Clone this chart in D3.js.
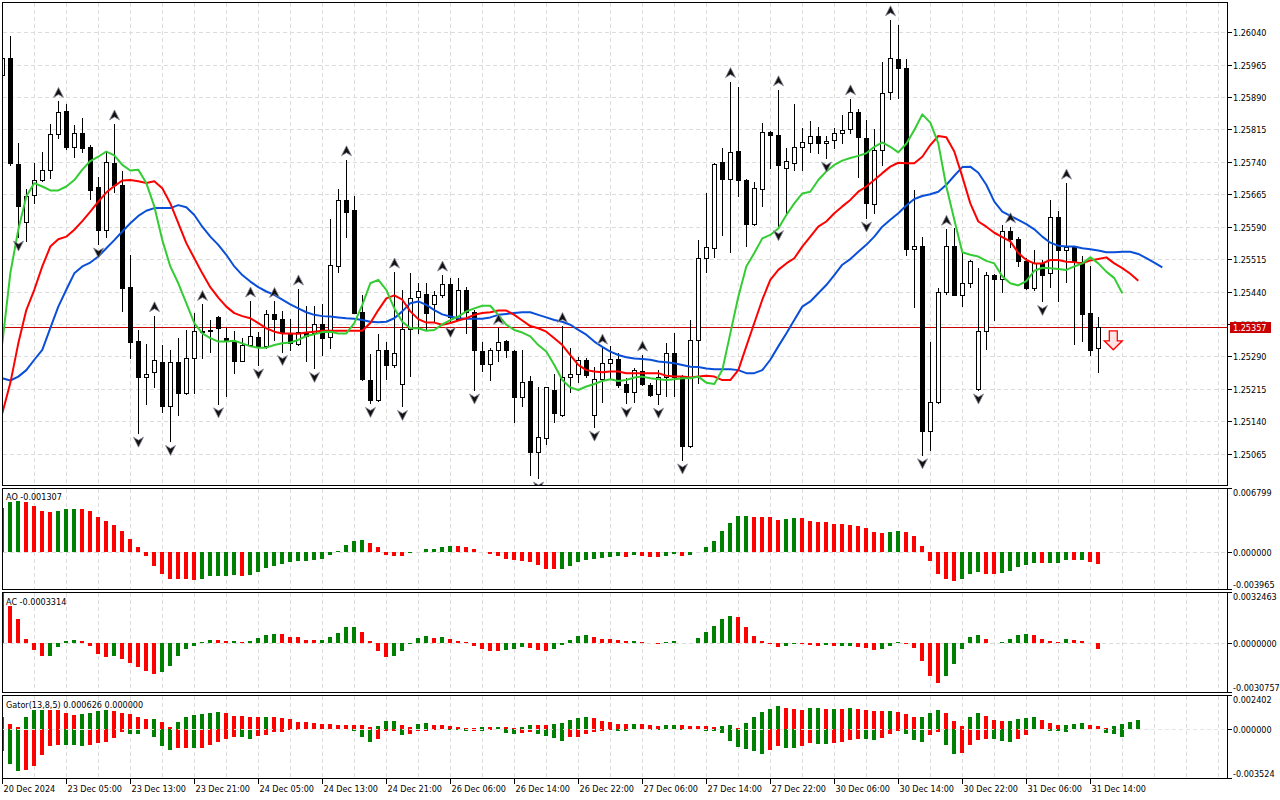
<!DOCTYPE html>
<html>
<head>
<meta charset="utf-8">
<script src="https://cdn.jsdelivr.net/npm/d3@7"></script>
<style>
html, body { margin: 0; padding: 0; background: #fff; }
svg { display: block; font-family: "DejaVu Sans Condensed", "DejaVu Sans", sans-serif; font-size: 9px; }
</style>
</head>
<body>
<svg id="chart" width="1280" height="800"></svg>
<script>
// ---- H1 candles, 20 Dec 2024 .. 31 Dec 2024 ----
const open = [1.25941,1.25980,1.25735,1.25602,1.25664,1.25698,1.25721,1.25804,1.25858,1.25775,
1.25806,1.25775,1.25681,1.25582,1.25737,1.25686,1.25450,1.25326,1.25241,1.25253,
1.25277,1.25174,1.25277,1.25206,1.25285,1.25347,1.25350,1.25381,1.25332,1.25326,
1.25280,1.25316,1.25334,1.25313,1.25387,1.25376,1.25345,1.25318,1.25347,1.25343,
1.25365,1.25334,1.25498,1.25652,1.25629,1.25392,1.25235,1.25188,1.25305,1.25269,
1.25225,1.25353,1.25427,1.25434,1.25410,1.25431,1.25457,1.25377,1.25444,1.25392,
1.25303,1.25272,1.25305,1.25326,1.25302,1.25195,1.25233,1.25069,1.25100,1.25212,
1.25154,1.25241,1.25248,1.25282,1.25154,1.25238,1.25274,1.25283,1.25225,1.25208,
1.25256,1.25224,1.25202,1.25243,1.25297,1.25243,1.25083,1.25328,1.25517,1.25540,
1.25739,1.25701,1.25765,1.25698,1.25596,1.25677,1.25809,1.25803,1.25725,1.25738,
1.25774,1.25783,1.25800,1.25783,1.25791,1.25806,1.25816,1.25855,1.25795,1.25643,
1.25768,1.25901,1.25978,1.25957,1.25538,1.25546,1.25118,1.25185,1.25440,1.25546,
1.25432,1.25459,1.25214,1.25349,1.25478,1.25468,1.25580,1.25561,1.25511,1.25448,
1.25505,1.25482,1.25612,1.25536,1.25542,1.25509,1.25390,1.25309];
const high = [1.25985,1.26032,1.25783,1.25678,1.25737,1.25762,1.25828,1.25880,1.25873,1.25826,
1.25841,1.25779,1.25706,1.25765,1.25828,1.25718,1.25525,1.25351,1.25318,1.25384,
1.25316,1.25305,1.25333,1.25351,1.25390,1.25410,1.25374,1.25383,1.25356,1.25349,
1.25332,1.25418,1.25347,1.25397,1.25417,1.25394,1.25376,1.25446,1.25407,1.25407,
1.25411,1.25608,1.25678,1.25745,1.25660,1.25432,1.25296,1.25342,1.25324,1.25485,
1.25444,1.25482,1.25459,1.25459,1.25441,1.25478,1.25472,1.25472,1.25451,1.25397,
1.25324,1.25309,1.25355,1.25328,1.25304,1.25305,1.25245,1.25218,1.25220,1.25249,
1.25359,1.25310,1.25289,1.25285,1.25266,1.25309,1.25313,1.25297,1.25239,1.25262,
1.25293,1.25228,1.25258,1.25320,1.25343,1.25247,1.25374,1.25559,1.25667,1.25738,
1.25772,1.25926,1.25913,1.25700,1.25693,1.25830,1.25812,1.25907,1.25772,1.25873,
1.25818,1.25835,1.25820,1.25799,1.25818,1.25849,1.25886,1.25863,1.25837,1.25816,
1.25972,1.26069,1.26057,1.25978,1.25675,1.25566,1.25322,1.25448,1.25584,1.25588,
1.25529,1.25513,1.25494,1.25486,1.25481,1.25593,1.25590,1.25567,1.25517,1.25536,
1.25513,1.25652,1.25627,1.25691,1.25544,1.25522,1.25500,1.25380];
const low = [1.25935,1.25732,1.25566,1.25556,1.25644,1.25695,1.25702,1.25796,1.25769,1.25752,
1.25762,1.25654,1.25550,1.25567,1.25671,1.25394,1.25287,1.25112,1.25180,1.25220,
1.25160,1.25093,1.25153,1.25203,1.25204,1.25285,1.25301,1.25180,1.25197,1.25252,
1.25278,1.25313,1.25270,1.25309,1.25328,1.25301,1.25305,1.25316,1.25278,1.25262,
1.25293,1.25310,1.25486,1.25567,1.25390,1.25235,1.25181,1.25186,1.25238,1.25266,
1.25174,1.25245,1.25343,1.25351,1.25370,1.25428,1.25366,1.25374,1.25343,1.25212,
1.25257,1.25234,1.25280,1.25289,1.25139,1.25174,1.25015,1.25008,1.25086,1.25139,
1.25152,1.25208,1.25231,1.25243,1.25126,1.25185,1.25239,1.25220,1.25181,1.25185,
1.25224,1.25199,1.25179,1.25197,1.25198,1.25050,1.25081,1.25228,1.25484,1.25519,
1.25571,1.25532,1.25660,1.25546,1.25593,1.25637,1.25725,1.25590,1.25621,1.25722,
1.25722,1.25764,1.25760,1.25749,1.25772,1.25783,1.25808,1.25705,1.25610,1.25621,
1.25733,1.25886,1.25887,1.25525,1.25404,1.25062,1.25073,1.25183,1.25434,1.25431,
1.25407,1.25450,1.25212,1.25306,1.25374,1.25440,1.25544,1.25498,1.25446,1.25444,
1.25417,1.25450,1.25419,1.25463,1.25318,1.25326,1.25292,1.25253];
const close = [1.25980,1.25737,1.25637,1.25662,1.25698,1.25721,1.25804,1.25855,1.25775,1.25806,
1.25773,1.25674,1.25583,1.25739,1.25686,1.25447,1.25324,1.25241,1.25248,1.25282,
1.25176,1.25277,1.25204,1.25285,1.25349,1.25349,1.25348,1.25356,1.25326,1.25280,
1.25316,1.25337,1.25313,1.25387,1.25376,1.25347,1.25320,1.25347,1.25337,1.25365,
1.25332,1.25502,1.25652,1.25625,1.25391,1.25237,1.25188,1.25305,1.25269,1.25297,
1.25353,1.25426,1.25441,1.25390,1.25432,1.25457,1.25382,1.25444,1.25392,1.25305,
1.25272,1.25305,1.25324,1.25305,1.25195,1.25231,1.25068,1.25103,1.25218,1.25158,
1.25241,1.25248,1.25282,1.25247,1.25237,1.25274,1.25283,1.25224,1.25208,1.25258,
1.25225,1.25201,1.25243,1.25297,1.25243,1.25083,1.25328,1.25517,1.25542,1.25735,
1.25701,1.25762,1.25697,1.25596,1.25679,1.25809,1.25803,1.25732,1.25741,1.25774,
1.25786,1.25800,1.25783,1.25789,1.25806,1.25813,1.25855,1.25797,1.25644,1.25768,
1.25899,1.25980,1.25957,1.25538,1.25546,1.25118,1.25185,1.25440,1.25546,1.25432,
1.25459,1.25511,1.25349,1.25478,1.25468,1.25580,1.25561,1.25511,1.25448,1.25505,
1.25478,1.25612,1.25535,1.25542,1.25509,1.25387,1.25305,1.25357];

// ---- Alligator lines (as drawn, already shifted) ----
const jaw = [1.25239,1.25234,1.25243,1.25258,1.25282,1.25305,1.25355,1.25405,1.25444,1.25482,
1.25498,1.25507,1.25521,1.25540,1.25559,1.25579,1.25598,1.25615,1.25627,1.25633,
1.25633,1.25633,1.25640,1.25635,1.25617,1.25590,1.25567,1.25548,1.25525,1.25498,
1.25478,1.25463,1.25450,1.25440,1.25432,1.25421,1.25410,1.25401,1.25392,1.25386,
1.25383,1.25382,1.25380,1.25378,1.25377,1.25374,1.25370,1.25369,1.25370,1.25378,
1.25394,1.25413,1.25417,1.25409,1.25397,1.25387,1.25382,1.25378,1.25377,1.25377,
1.25377,1.25380,1.25386,1.25388,1.25390,1.25392,1.25392,1.25386,1.25380,1.25374,
1.25370,1.25363,1.25351,1.25340,1.25324,1.25312,1.25301,1.25293,1.25288,1.25285,
1.25284,1.25282,1.25278,1.25276,1.25274,1.25270,1.25266,1.25265,1.25262,1.25260,
1.25260,1.25260,1.25258,1.25251,1.25251,1.25258,1.25282,1.25313,1.25343,1.25374,
1.25405,1.25417,1.25436,1.25455,1.25478,1.25502,1.25515,1.25532,1.25548,1.25567,
1.25590,1.25606,1.25621,1.25639,1.25654,1.25661,1.25665,1.25671,1.25687,1.25708,
1.25728,1.25729,1.25715,1.25687,1.25648,1.25625,1.25615,1.25606,1.25596,1.25584,
1.25567,1.25553,1.25546,1.25544,1.25544,1.25540,1.25538,1.25535,1.25531,1.25531,
1.25532,1.25532,1.25527,1.25517,1.25507,1.25496];
const teeth = [1.25158,1.25228,1.25320,1.25397,1.25444,1.25498,1.25544,1.25561,1.25567,1.25583,
1.25603,1.25625,1.25648,1.25669,1.25684,1.25697,1.25698,1.25695,1.25691,1.25695,
1.25679,1.25644,1.25598,1.25552,1.25517,1.25482,1.25450,1.25426,1.25405,1.25390,
1.25383,1.25378,1.25367,1.25355,1.25347,1.25343,1.25343,1.25342,1.25345,1.25347,
1.25349,1.25349,1.25349,1.25349,1.25349,1.25349,1.25367,1.25397,1.25424,1.25431,
1.25421,1.25394,1.25376,1.25368,1.25368,1.25363,1.25367,1.25373,1.25378,1.25386,
1.25390,1.25392,1.25396,1.25396,1.25386,1.25373,1.25360,1.25355,1.25347,1.25332,
1.25316,1.25293,1.25270,1.25258,1.25255,1.25253,1.25255,1.25255,1.25251,1.25251,
1.25251,1.25251,1.25251,1.25245,1.25243,1.25243,1.25241,1.25243,1.25245,1.25243,
1.25235,1.25235,1.25258,1.25313,1.25367,1.25421,1.25467,1.25490,1.25505,1.25517,
1.25544,1.25567,1.25590,1.25602,1.25621,1.25637,1.25652,1.25671,1.25683,1.25698,
1.25714,1.25729,1.25738,1.25737,1.25737,1.25752,1.25779,1.25800,1.25797,1.25764,
1.25706,1.25644,1.25602,1.25590,1.25576,1.25566,1.25556,1.25529,1.25513,1.25505,
1.25505,1.25513,1.25513,1.25509,1.25508,1.25505,1.25512,1.25515,1.25519,1.25505,
1.25494,1.25481,1.25465];
const lips = [1.25320,1.25482,1.25583,1.25660,1.25691,1.25683,1.25674,1.25674,1.25683,1.25698,
1.25722,1.25742,1.25752,1.25764,1.25755,1.25733,1.25720,1.25722,1.25691,1.25637,
1.25559,1.25498,1.25459,1.25413,1.25367,1.25343,1.25332,1.25324,1.25324,1.25326,
1.25320,1.25313,1.25310,1.25310,1.25316,1.25320,1.25322,1.25328,1.25337,1.25341,
1.25346,1.25347,1.25343,1.25343,1.25367,1.25409,1.25459,1.25467,1.25444,1.25401,
1.25370,1.25355,1.25355,1.25349,1.25351,1.25364,1.25374,1.25382,1.25394,1.25401,
1.25407,1.25407,1.25386,1.25363,1.25351,1.25345,1.25336,1.25316,1.25301,1.25270,
1.25235,1.25218,1.25212,1.25220,1.25226,1.25233,1.25237,1.25233,1.25235,1.25241,
1.25243,1.25239,1.25237,1.25235,1.25237,1.25239,1.25239,1.25243,1.25229,1.25226,
1.25258,1.25343,1.25428,1.25498,1.25529,1.25563,1.25571,1.25586,1.25617,1.25644,
1.25667,1.25671,1.25698,1.25718,1.25733,1.25743,1.25749,1.25754,1.25760,1.25775,
1.25785,1.25775,1.25762,1.25782,1.25814,1.25850,1.25831,1.25783,1.25683,1.25606,
1.25531,1.25525,1.25521,1.25511,1.25505,1.25475,1.25459,1.25454,1.25464,1.25488,
1.25495,1.25494,1.25492,1.25490,1.25498,1.25505,1.25519,1.25505,1.25486,1.25471,
1.25436];

// fractal candles
const upFractals = [7,14,19,25,31,34,37,43,49,55,62,70,75,80,91,97,106,111,118,126,133];
const downFractals = [2,12,17,21,27,32,35,39,46,50,56,59,67,74,78,82,85,97,103,108,115,122,130];

// sell signal after the last bar
const signalIndex = 139;
const signalPrice = 1.25349;

// ---- Awesome Oscillator ----
const ao = [0.00472,0.00536,0.00537,0.00535,0.00493,0.00440,0.00419,0.00440,0.00458,0.00459,
0.00457,0.00430,0.00366,0.00323,0.00288,0.00217,0.00138,0.00046,-0.00050,-0.00156,
-0.00234,-0.00288,-0.00289,-0.00290,-0.00298,-0.00288,-0.00263,-0.00262,-0.00261,-0.00252,
-0.00253,-0.00245,-0.00217,-0.00174,-0.00149,-0.00128,-0.00110,-0.00096,-0.00093,-0.00085,
-0.00075,-0.00039,0.00010,0.00075,0.00117,0.00128,0.00096,0.00046,-0.00039,-0.00040,
-0.00041,-0.00014,-0.00004,0.00028,0.00029,0.00053,0.00064,0.00063,0.00053,0.00032,
-0.00004,-0.00025,-0.00050,-0.00075,-0.00085,-0.00096,-0.00114,-0.00146,-0.00181,-0.00182,
-0.00180,-0.00149,-0.00114,-0.00085,-0.00078,-0.00067,-0.00060,-0.00050,-0.00051,-0.00039,
-0.00043,-0.00053,-0.00060,-0.00043,-0.00025,-0.00050,-0.00039,-0.00007,0.00053,0.00117,
0.00224,0.00309,0.00383,0.00384,0.00373,0.00372,0.00371,0.00344,0.00345,0.00362,
0.00355,0.00330,0.00320,0.00319,0.00298,0.00297,0.00288,0.00277,0.00249,0.00213,
0.00202,0.00213,0.00224,0.00213,0.00170,0.00064,-0.00096,-0.00234,-0.00288,-0.00309,
-0.00288,-0.00234,-0.00213,-0.00234,-0.00235,-0.00224,-0.00202,-0.00160,-0.00138,-0.00117,
-0.00118,-0.00116,-0.00115,-0.00085,-0.00086,-0.00084,-0.00107,-0.001307];

// ---- Accelerator Oscillator ----
const ac = [0.00324,0.00236,0.00154,0.00027,-0.00040,-0.00080,-0.00079,-0.00023,0.00015,0.00021,
0.00015,-0.00015,-0.00065,-0.00084,-0.00080,-0.00099,-0.00124,-0.00150,-0.00173,-0.00194,
-0.00179,-0.00143,-0.00080,-0.00034,-0.00015,0.00008,0.00021,0.00020,0.00015,0.00016,
0.00008,0.00017,0.00034,0.00053,0.00059,0.00058,0.00040,0.00038,0.00023,0.00021,
0.00023,0.00040,0.00065,0.00103,0.00104,0.00072,0.00015,-0.00046,-0.00084,-0.00080,
-0.00046,-0.00001,0.00034,0.00046,0.00034,0.00038,0.00027,0.00013,0.00008,-0.00015,
-0.00034,-0.00046,-0.00047,-0.00045,-0.00034,-0.00021,-0.00027,-0.00040,-0.00046,-0.00034,
-0.00008,0.00021,0.00046,0.00053,0.00040,0.00027,0.00026,0.00021,0.00015,0.00016,
0.00008,0.00000,-0.00001,0.00008,0.00015,0.00000,0.00001,0.00034,0.00072,0.00110,
0.00154,0.00173,0.00167,0.00103,0.00046,0.00015,-0.00002,-0.00023,-0.00017,-0.00006,
-0.00007,-0.00011,-0.00017,-0.00008,-0.00017,-0.00016,-0.00015,-0.00023,-0.00030,-0.00042,
-0.00036,-0.00017,0.00006,-0.00004,-0.00030,-0.00112,-0.00207,-0.00251,-0.00207,-0.00131,
-0.00036,0.00040,0.00053,0.00027,0.00001,0.00008,0.00027,0.00053,0.00059,0.00053,
0.00027,0.00015,0.00008,0.00027,0.00021,0.00015,0.00001,-0.0003314];

// ---- Gator Oscillator (13,8,5) ----
const gatorUp = [0.00082,0.00035,0.00012,0.00082,0.00134,0.00135,0.00134,0.00133,0.00113,0.00099,
0.00106,0.00113,0.00127,0.00134,0.00127,0.00113,0.00106,0.00082,0.00066,0.00067,
0.00049,0.00012,0.00049,0.00082,0.00099,0.00106,0.00113,0.00120,0.00113,0.00092,
0.00087,0.00082,0.00081,0.00082,0.00081,0.00075,0.00066,0.00049,0.00045,0.00040,
0.00034,0.00033,0.00029,0.00028,0.00027,0.00026,0.00012,0.00021,0.00056,0.00057,
0.00028,0.00014,0.00035,0.00042,0.00028,0.00027,0.00021,0.00014,0.00007,0.00006,
0.00014,0.00013,0.00014,0.00013,0.00005,0.00014,0.00028,0.00027,0.00026,0.00035,
0.00042,0.00063,0.00078,0.00085,0.00078,0.00056,0.00049,0.00035,0.00034,0.00035,
0.00034,0.00028,0.00021,0.00028,0.00029,0.00028,0.00021,0.00020,0.00019,0.00014,
0.00021,0.00028,0.00007,0.00042,0.00085,0.00120,0.00141,0.00162,0.00148,0.00141,
0.00134,0.00148,0.00149,0.00141,0.00142,0.00141,0.00148,0.00141,0.00134,0.00127,
0.00126,0.00127,0.00120,0.00106,0.00085,0.00086,0.00113,0.00134,0.00113,0.00056,
0.00021,0.00085,0.00113,0.00092,0.00063,0.00056,0.00057,0.00071,0.00078,0.00085,
0.00063,0.00042,0.00028,0.00029,0.00035,0.00042,0.00028,0.00021,0.00007,0.00021,
0.00035,0.00049,0.000626];
const gatorDown = [-0.00160,-0.00251,-0.00301,-0.00294,-0.00266,-0.00188,-0.00125,-0.00118,-0.00119,-0.00120,
-0.00121,-0.00118,-0.00106,-0.00096,-0.00066,-0.00026,-0.00035,-0.00036,-0.00002,-0.00061,
-0.00125,-0.00153,-0.00141,-0.00140,-0.00141,-0.00140,-0.00118,-0.00096,-0.00075,-0.00059,
-0.00060,-0.00071,-0.00054,-0.00047,-0.00026,-0.00025,-0.00012,-0.00007,-0.00002,-0.00001,
0,-0.00005,-0.00002,-0.00001,-0.00016,-0.00061,-0.00096,-0.00075,-0.00020,-0.00019,
-0.00047,-0.00040,-0.00019,-0.00018,-0.00012,-0.00005,-0.00012,-0.00013,-0.00019,-0.00018,
-0.00019,-0.00012,-0.00002,-0.00028,-0.00035,-0.00034,-0.00026,-0.00040,-0.00054,-0.00068,
-0.00089,-0.00061,-0.00060,-0.00040,-0.00026,-0.00019,-0.00012,-0.00019,-0.00020,-0.00005,
-0.00004,-0.00012,-0.00013,-0.00005,-0.00004,-0.00007,-0.00005,-0.00003,-0.00016,-0.00019,
-0.00028,-0.00089,-0.00132,-0.00146,-0.00160,-0.00181,-0.00153,-0.00125,-0.00136,-0.00139,
-0.00125,-0.00103,-0.00110,-0.00111,-0.00103,-0.00096,-0.00082,-0.00075,-0.00076,-0.00082,
-0.00068,-0.00040,-0.00019,-0.00040,-0.00082,-0.00096,-0.00047,-0.00026,-0.00118,-0.00181,
-0.00174,-0.00118,-0.00082,-0.00075,-0.00076,-0.00089,-0.00096,-0.00075,-0.00047,-0.00012,
-0.00005,-0.00019,-0.00020,-0.00026,-0.00005,-0.00004,-0.00003,-0.00002,-0.00033,-0.00040,
-0.00061,-0.00005,0];

// first-bar colours (no previous bar in view)
const firstRising = { ao: true, ac: false, gatorUp: false, gatorDown: true };

// ---- axis labels ----
const priceTicks = [1.26040,1.25965,1.25890,1.25815,1.25740,1.25665,1.25590,1.25515,1.25440,1.25365,1.25290,1.25215,1.25140,1.25065];
const timeTickIndex = [0,8,16,24,32,40,48,56,64,72,80,88,96,104,112,120,128,136];
const timeLabels = ["20 Dec 2024","23 Dec 05:00","23 Dec 13:00","23 Dec 21:00","24 Dec 05:00","24 Dec 13:00",
  "24 Dec 21:00","26 Dec 06:00","26 Dec 14:00","26 Dec 22:00","27 Dec 06:00","27 Dec 14:00",
  "27 Dec 22:00","30 Dec 06:00","30 Dec 14:00","30 Dec 22:00","31 Dec 06:00","31 Dec 14:00"];
const aoScaleLabels = [0.006799, 0, -0.003965];
const acScaleLabels = [0.0032463, 0, -0.0030757];
const gatorScaleLabels = [0.002402, 0, -0.003524];

// ---------------------------------------------------------------
const svg = d3.select("#chart");
const left = 2.5, right = 1227.5;
const panel = {
  main:  { top: 2.5,   bottom: 485.5 },
  ao:    { top: 488.5, bottom: 589.5 },
  ac:    { top: 592.5, bottom: 692.5 },
  gator: { top: 695.5, bottom: 778.5 }
};
const GREEN = "#008000", RED = "#ff0000", GRID = "#dcdcdc";

const x = d3.scaleLinear().domain([0, 137]).range([2.3, 1098.3]);
const px = i => Math.round(x(i));
const yMain = d3.scaleLinear().domain([1.25065, 1.26040]).range([453.5, 32.3]);
const yAO = d3.scaleLinear().domain([-0.003965, 0.006799]).range([589, 488]);
const yAC = d3.scaleLinear().domain([-0.0030757, 0.0032463]).range([692, 592]);
const yGator = d3.scaleLinear().domain([-0.003524, 0.002402]).range([778, 695]);

const lastPrice = close[close.length - 1];
const lastY = Math.round(yMain(lastPrice));

const defs = svg.append("defs");
Object.entries(panel).forEach(([k, p]) => {
  defs.append("clipPath").attr("id", "clip-" + k)
    .append("rect").attr("x", left).attr("y", p.top).attr("width", right - left).attr("height", p.bottom - p.top);
});
// price labels hidden under the last-price badge keep only what shows above it
defs.append("clipPath").attr("id", "clip-under-badge")
  .append("rect").attr("x", right).attr("y", 0).attr("width", 60).attr("height", lastY - 5.5);

// vertical grid in every panel (every 4 bars)
const gridIdx = d3.range(4, 153, 4);
Object.entries(panel).forEach(([k, p]) => {
  svg.append("g").attr("clip-path", `url(#clip-${k})`)
    .selectAll("line").data(gridIdx).join("line")
    .attr("x1", d => px(d) + 0.5).attr("x2", d => px(d) + 0.5)
    .attr("y1", p.top).attr("y2", p.bottom)
    .attr("stroke", GRID).attr("stroke-dasharray", "4,3").attr("shape-rendering", "crispEdges");
});

// horizontal grid main
svg.append("g").selectAll("line").data(priceTicks).join("line")
  .attr("x1", left).attr("x2", right)
  .attr("y1", d => Math.round(yMain(d)) + 0.5).attr("y2", d => Math.round(yMain(d)) + 0.5)
  .attr("stroke", GRID).attr("stroke-dasharray", "4,3").attr("shape-rendering", "crispEdges");

// ---- main panel ----
const gMain = svg.append("g").attr("clip-path", "url(#clip-main)");
const idx = d3.range(open.length);

// current price line
gMain.append("line")
  .attr("x1", left).attr("x2", right)
  .attr("y1", lastY + 0.5).attr("y2", lastY + 0.5)
  .attr("stroke", "#c80000").attr("stroke-width", 1).attr("shape-rendering", "crispEdges");

// wicks
gMain.append("g").selectAll("line").data(idx).join("line")
  .attr("x1", i => px(i) + 0.5).attr("x2", i => px(i) + 0.5)
  .attr("y1", i => Math.round(yMain(high[i]))).attr("y2", i => Math.round(yMain(low[i])) + 1)
  .attr("stroke", "#000").attr("shape-rendering", "crispEdges");

// bodies
gMain.append("g").selectAll("rect").data(idx).join("rect")
  .attr("x", i => close[i] >= open[i] ? px(i) - 1.5 : px(i) - 2)
  .attr("width", i => close[i] >= open[i] ? 4 : 5)
  .attr("y", i => {
    const t = Math.round(yMain(Math.max(open[i], close[i])));
    return close[i] >= open[i] ? t + 0.5 : t;
  })
  .attr("height", i => {
    const t = Math.round(yMain(Math.max(open[i], close[i])));
    const b = Math.round(yMain(Math.min(open[i], close[i])));
    return close[i] >= open[i] ? Math.max(1, b - t) : Math.max(1, b - t + 1);
  })
  .attr("fill", i => close[i] >= open[i] ? "#fff" : "#000")
  .attr("stroke", i => close[i] >= open[i] ? "#000" : "none")
  .attr("shape-rendering", "crispEdges");

// alligator
const line = d3.line().x((d, i) => x(i)).y(d => yMain(d));
[[jaw, "#0a4fd8"], [teeth, "#ff0000"], [lips, "#33cc33"]].forEach(([s, c]) => {
  gMain.append("path").datum(s).attr("d", line)
    .attr("fill", "none").attr("stroke", c).attr("stroke-width", 2).attr("stroke-linejoin", "round");
});

// fractals
const upShape = "M0,-5 L5,5 L0,2 L-5,5 Z";
const downShape = "M0,5 L5,-5 L0,-2 L-5,-5 Z";
gMain.append("g").selectAll("path").data(upFractals).join("path")
  .attr("transform", i => `translate(${px(i) + 0.5},${yMain(high[i]) - 9})`)
  .attr("d", upShape).attr("fill", "#111").attr("stroke", "#8a8a9a").attr("stroke-width", 0.8);
gMain.append("g").selectAll("path").data(downFractals).join("path")
  .attr("transform", i => `translate(${px(i) + 0.5},${yMain(low[i]) + 9})`)
  .attr("d", downShape).attr("fill", "#111").attr("stroke", "#8a8a9a").attr("stroke-width", 0.8);

// sell arrow
const sx = x(signalIndex) - 1, sy = yMain(signalPrice);
gMain.append("path")
  .attr("d", `M${sx - 4},${sy} L${sx + 4},${sy} L${sx + 4},${sy + 10} L${sx + 9},${sy + 10} L${sx},${sy + 19} L${sx - 9},${sy + 10} L${sx - 4},${sy + 10} Z`)
  .attr("fill", "#ffe4e4").attr("stroke", "#ff0000").attr("stroke-width", 1.3).attr("stroke-linejoin", "miter");

// ---- oscillator panels ----
function barColor(values, i, firstUp) {
  const rising = i === 0 ? firstUp : values[i] > values[i - 1];
  return rising ? GREEN : RED;
}
function drawHist(key, values, y, firstUp, magnitude) {
  const g = svg.append("g").attr("clip-path", `url(#clip-${key})`);
  const y0 = Math.round(y(0));
  g.append("line").attr("x1", left).attr("x2", right).attr("y1", y0 + 0.5).attr("y2", y0 + 0.5)
    .attr("stroke", GRID).attr("stroke-dasharray", "4,3").attr("shape-rendering", "crispEdges");
  const vals = magnitude ? values.map(Math.abs) : values;
  g.selectAll("rect").data(values).join("rect")
    .attr("x", (d, i) => px(i) - 2).attr("width", 4)
    .attr("y", d => Math.min(y0, Math.round(y(d))))
    .attr("height", d => Math.abs(Math.round(y(d)) - y0))
    .attr("fill", (d, i) => barColor(vals, i, firstUp))
    .attr("shape-rendering", "crispEdges");
  return g;
}
drawHist("ao", ao, yAO, firstRising.ao, false);
drawHist("ac", ac, yAC, firstRising.ac, false);
drawHist("gator", gatorUp, yGator, firstRising.gatorUp, true);
const gG = drawHist("gator", gatorDown, yGator, firstRising.gatorDown, true);
gG.append("line").attr("x1", left).attr("x2", right)
  .attr("y1", Math.round(yGator(0)) + 0.5).attr("y2", Math.round(yGator(0)) + 0.5)
  .attr("stroke", "#e6e6e6").attr("stroke-dasharray", "4,3").attr("shape-rendering", "crispEdges");

// ---- frames ----
Object.values(panel).forEach(p => {
  svg.append("rect").attr("x", left).attr("y", p.top).attr("width", right - left).attr("height", p.bottom - p.top)
    .attr("fill", "none").attr("stroke", "#000").attr("shape-rendering", "crispEdges");
});

// ---- right price axis ----
const axisG = svg.append("g");
priceTicks.forEach(p => {
  const yy = Math.round(yMain(p)) + 0.5;
  axisG.append("line").attr("x1", right).attr("x2", right + 4).attr("y1", yy).attr("y2", yy)
    .attr("stroke", "#000").attr("shape-rendering", "crispEdges");
  const covered = Math.abs(yy - lastY) < 9;
  axisG.append("text").attr("x", 1233).attr("y", yy).attr("dy", "0.35em")
    .attr("clip-path", covered ? "url(#clip-under-badge)" : null)
    .text(p.toFixed(5));
});
// last price badge
axisG.append("rect").attr("x", 1229.5).attr("y", lastY - 5.5).attr("width", 41).attr("height", 11)
  .attr("fill", "#c80000").attr("shape-rendering", "crispEdges");
axisG.append("text").attr("x", 1233).attr("y", lastY + 0.5).attr("dy", "0.35em")
  .attr("fill", "#fff").text(lastPrice.toFixed(5));

// oscillator scales
function oscAxis(labels, y, p, digits) {
  labels.forEach(v => {
    const yy = Math.round(y(v)) + 0.5;
    axisG.append("line").attr("x1", right).attr("x2", right + 4).attr("y1", yy).attr("y2", yy)
      .attr("stroke", "#000").attr("shape-rendering", "crispEdges");
    const ty = Math.min(Math.max(yy, p.top + 4.5), p.bottom - 5);
    axisG.append("text").attr("x", 1233).attr("y", ty).attr("dy", "0.35em").text(v.toFixed(digits));
  });
}
oscAxis(aoScaleLabels, yAO, panel.ao, 6);
oscAxis(acScaleLabels, yAC, panel.ac, 7);
oscAxis(gatorScaleLabels, yGator, panel.gator, 6);

// panel titles
svg.append("text").attr("x", 6).attr("y", 497).attr("dy", "0.35em")
  .text(`AO ${ao[ao.length - 1].toFixed(6)}`);
svg.append("text").attr("x", 6).attr("y", 601.5).attr("dy", "0.35em")
  .text(`AC ${ac[ac.length - 1].toFixed(7)}`);
svg.append("text").attr("x", 6).attr("y", 704.5).attr("dy", "0.35em")
  .text(`Gator(13,8,5) ${gatorUp[gatorUp.length - 1].toFixed(6)} ${Math.abs(gatorDown[gatorDown.length - 1]).toFixed(6)}`);

// ---- time axis ----
timeTickIndex.forEach((ti, k) => {
  const xx = px(ti) + 0.5;
  axisG.append("line").attr("x1", xx).attr("x2", xx).attr("y1", panel.gator.bottom).attr("y2", panel.gator.bottom + 5)
    .attr("stroke", "#000").attr("shape-rendering", "crispEdges");
  axisG.append("text").attr("x", xx + 1).attr("y", 788.5).attr("dy", "0.35em").text(timeLabels[k]);
});
</script>
</body>
</html>
